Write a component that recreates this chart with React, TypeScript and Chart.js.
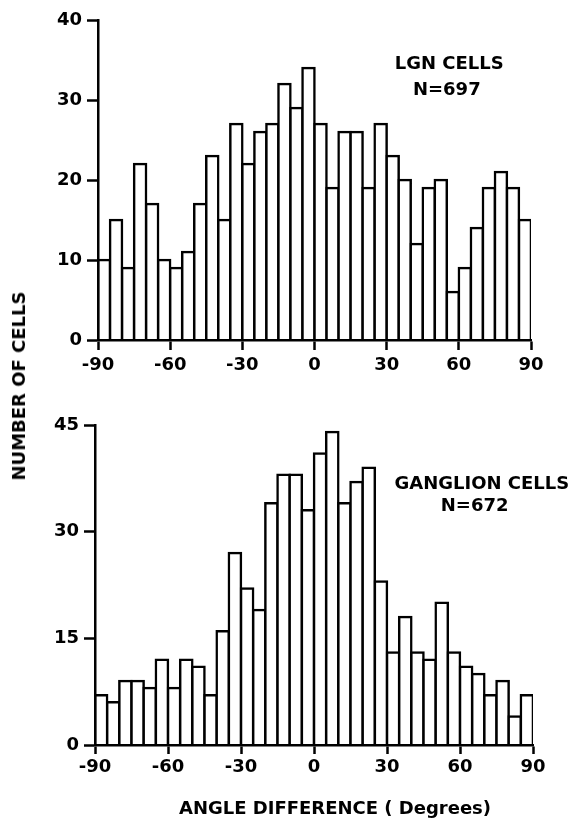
import React, { useEffect, useRef } from "react";
import { Chart, registerables } from "chart.js";

Chart.register(...registerables);

// 5-degree bins from -90 to +90 (bin centres)
const BIN_CENTERS = [
  -87.5, -82.5, -77.5, -72.5, -67.5, -62.5, -57.5, -52.5, -47.5, -42.5, -37.5, -32.5,
  -27.5, -22.5, -17.5, -12.5, -7.5, -2.5, 2.5, 7.5, 12.5, 17.5, 22.5, 27.5,
  32.5, 37.5, 42.5, 47.5, 52.5, 57.5, 62.5, 67.5, 72.5, 77.5, 82.5, 87.5,
];

const LGN_COUNTS = [
  10, 15, 9, 22, 17, 10, 9, 11, 17, 23, 15, 27, 22, 26, 27, 32, 29, 34,
  27, 19, 26, 26, 19, 27, 23, 20, 12, 19, 20, 6, 9, 14, 19, 21, 19, 15,
];

const GANGLION_COUNTS = [
  7, 6, 9, 9, 8, 12, 8, 12, 11, 7, 16, 27, 22, 19, 34, 38, 38, 33,
  41, 44, 34, 37, 39, 23, 13, 18, 13, 12, 20, 13, 11, 10, 7, 9, 4, 7,
];

const X_TICK_STEP = 30;
const LGN_Y_MAX = 40;
const LGN_Y_STEP = 10;
const GANGLION_Y_MAX = 45;
const GANGLION_Y_STEP = 15;

const FONT_FAMILY = "'DejaVu Sans', 'Liberation Sans', sans-serif";
const INK = "#000";

type Note = { text: string; x: number; y: number };

type PanelSpec = {
  counts: number[];
  yMax: number;
  yStep: number;
  notes: Note[];
  top: number;
  height: number;
  padTop: number;
  padRight: number;
  yAxisWidth: number;
  xAxisHeight: number;
  xTickLength: number;
  xTickPadding: number;
};

// Writes the in-panel captions at data coordinates
const notesPlugin = {
  id: "panelNotes",
  afterDraw(chart: any) {
    const notes: Note[] = chart.options.plugins.panelNotes?.notes || [];
    const { ctx, scales } = chart;
    ctx.save();
    ctx.fillStyle = INK;
    ctx.font = `bold 18px ${FONT_FAMILY}`;
    ctx.textAlign = "center";
    ctx.textBaseline = "middle";
    for (const n of notes) {
      ctx.fillText(n.text, scales.x.getPixelForValue(n.x), scales.y.getPixelForValue(n.y));
    }
    ctx.restore();
  },
};

function Histogram({ spec }: { spec: PanelSpec }) {
  const ref = useRef<HTMLCanvasElement | null>(null);

  useEffect(() => {
    if (!ref.current) return;
    const tickFont = { family: FONT_FAMILY, weight: "bold" as const, size: 18 };
    const chart = new Chart(ref.current, {
      type: "bar",
      data: {
        datasets: [
          {
            data: BIN_CENTERS.map((x, i) => ({ x, y: spec.counts[i] })),
            backgroundColor: "#fff",
            borderColor: INK,
            borderWidth: 2.5,
            borderSkipped: "bottom",
            inflateAmount: 1.25,
            barPercentage: 1,
            categoryPercentage: 1,
          } as any,
        ],
      },
      options: {
        responsive: false,
        animation: false,
        events: [],
        layout: { padding: { top: spec.padTop, right: spec.padRight, left: 0, bottom: 0 } },
        plugins: {
          legend: { display: false },
          tooltip: { enabled: false },
          panelNotes: { notes: spec.notes },
        } as any,
        scales: {
          x: {
            type: "linear",
            min: -90,
            max: 90,
            offset: false,
            grid: {
              display: true,
              offset: false,
              drawOnChartArea: false,
              drawTicks: true,
              tickLength: spec.xTickLength,
              tickWidth: 2.5,
              tickColor: INK,
            },
            border: { display: true, color: INK, width: 2.5, z: 1 } as any,
            ticks: {
              stepSize: X_TICK_STEP,
              color: INK,
              font: tickFont,
              padding: spec.xTickPadding,
              maxRotation: 0,
              autoSkip: false,
            },
            afterFit: (s: any) => {
              s.height = spec.xAxisHeight;
            },
          },
          y: {
            min: 0,
            max: spec.yMax,
            grid: {
              display: true,
              drawOnChartArea: false,
              drawTicks: true,
              tickLength: 11,
              tickWidth: 2.5,
              tickColor: INK,
            },
            border: { display: true, color: INK, width: 2.5, z: 1 } as any,
            ticks: {
              stepSize: spec.yStep,
              color: INK,
              font: tickFont,
              padding: 5,
            },
            afterFit: (s: any) => {
              s.width = spec.yAxisWidth;
            },
          },
        },
      } as any,
      plugins: [notesPlugin],
    });
    return () => chart.destroy();
  }, [spec]);

  return (
    <div style={{ position: "absolute", left: 0, top: spec.top, width: 572, height: spec.height }}>
      <canvas ref={ref} width={572} height={spec.height} style={{ display: "block" }} />
    </div>
  );
}

const LGN_PANEL: PanelSpec = {
  counts: LGN_COUNTS,
  yMax: LGN_Y_MAX,
  yStep: LGN_Y_STEP,
  notes: [
    { text: "LGN CELLS", x: 56, y: 34.4 },
    { text: "N=697", x: 55, y: 31.2 },
  ],
  top: 0,
  height: 380,
  padTop: 20,
  padRight: 41,
  yAxisWidth: 98,
  xAxisHeight: 40,
  xTickLength: 10,
  xTickPadding: 5,
};

const GANGLION_PANEL: PanelSpec = {
  counts: GANGLION_COUNTS,
  yMax: GANGLION_Y_MAX,
  yStep: GANGLION_Y_STEP,
  notes: [
    { text: "GANGLION CELLS", x: 69, y: 36.6 },
    { text: "N=672", x: 66, y: 33.5 },
  ],
  top: 380,
  height: 440,
  padTop: 45,
  padRight: 39,
  yAxisWidth: 95,
  xAxisHeight: 75,
  xTickLength: 9,
  xTickPadding: 3,
};

const titleStyle: React.CSSProperties = {
  position: "absolute",
  fontFamily: FONT_FAMILY,
  fontWeight: "bold",
  fontSize: 18,
  color: INK,
  whiteSpace: "nowrap",
  lineHeight: "22px",
};

export default function App() {
  return (
    <div style={{ position: "absolute", left: 0, top: 0, width: 572, height: 820, background: "#fff" }}>
      <Histogram spec={LGN_PANEL} />
      <Histogram spec={GANGLION_PANEL} />
      <div
        style={{
          ...titleStyle,
          left: 19,
          top: 386,
          transform: "translate(-50%, -50%) rotate(-90deg)",
        }}
      >
        NUMBER OF CELLS
      </div>
      <div style={{ ...titleStyle, left: 335, top: 808, transform: "translate(-50%, -50%)" }}>
        ANGLE DIFFERENCE ( Degrees)
      </div>
    </div>
  );
}
